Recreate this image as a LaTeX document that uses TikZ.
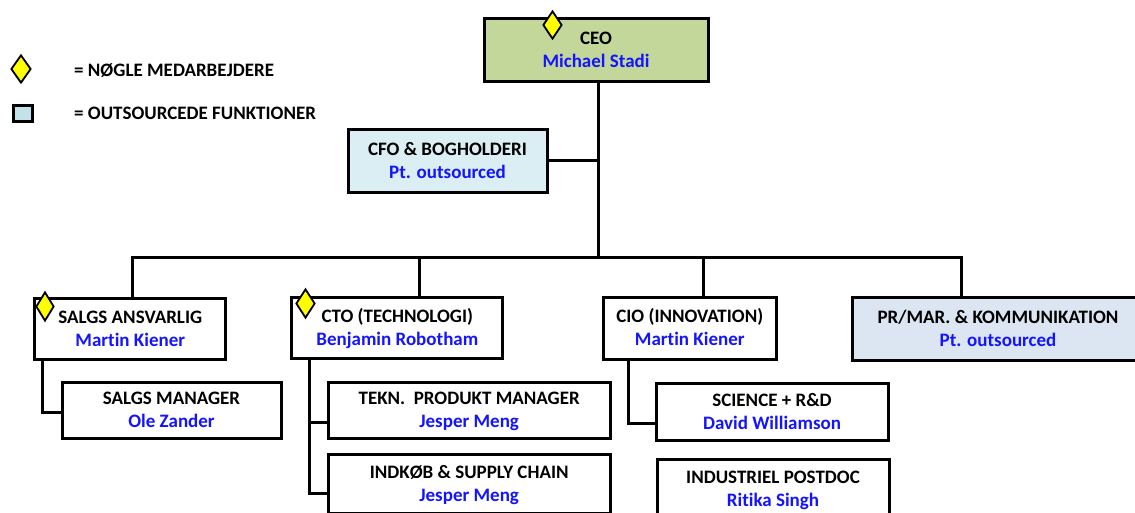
\documentclass[tikz,border=0pt]{standalone}
\usepackage{fontspec}
\setmainfont{Carlito}[RawFeature={-liga;-dlig}]
\usetikzlibrary{shapes.geometric}
\definecolor{ceofill}{HTML}{C4D79B}
\definecolor{cfofill}{HTML}{DAEEF3}
\definecolor{prfill}{HTML}{DCE6F2}
\definecolor{legfill}{HTML}{C3E1EA}
\definecolor{kblue}{HTML}{1414FF}
\definecolor{kyellow}{HTML}{FFFF00}
\tikzset{
  box/.style={draw=black, line width=3pt, fill=white, rectangle, align=center,
    font=\fontsize{19}{23}\selectfont\bfseries, inner sep=2pt,
    text height=40pt, text depth=5pt},
  conn/.style={draw=black, line width=3pt},
  keydia/.style={diamond, draw=black, line width=1.8pt, fill=kyellow, inner sep=0pt},
  legtxt/.style={font=\fontsize{19}{23}\selectfont\bfseries, anchor=base west, inner sep=0pt}
}
\newcommand{\who}[1]{\textcolor{kblue}{#1}}
\begin{document}
\begin{tikzpicture}[x=1pt, y=-1pt]
\clip (0,0) rectangle (1135,512);
\fill[white] (0,0) rectangle (1135,512);

% legend
\node[keydia, minimum width=20pt, minimum height=28pt] (legdia) at (21,69) {};
\node[legtxt] (legt1) at (74,76) {= NØGLE MEDARBEJDERE};
\node[draw=black, line width=3pt, fill=legfill, minimum width=19pt, minimum height=16pt, inner sep=0pt] (legsq) at (23,113) {};
\node[legtxt] (legt2) at (74,119) {= OUTSOURCEDE FUNKTIONER};

% boxes
\node[box, fill=ceofill, minimum width=224pt, minimum height=63pt] (ceo) at (596,49.5) {CEO\\\who{Michael Stadi}};
\node[box, fill=cfofill, minimum width=199pt, minimum height=63pt] (cfo) at (447.5,160.5) {CFO \& BOGHOLDERI\\\who{Pt. outsourced}};
\node[box, minimum width=191pt, minimum height=61pt] (salgs) at (130.3,328.5) {SALGS ANSVARLIG\\\who{Martin Kiener}};
\node[box, minimum width=211pt, minimum height=61pt] (cto) at (397.3,327.5) {CTO (TECHNOLOGI)\\\who{Benjamin Robotham}};
\node[box, minimum width=173pt, minimum height=62pt] (cio) at (689.75,328) {CIO (INNOVATION)\\\who{Martin Kiener}};
\node[box, fill=prfill, minimum width=292pt, minimum height=63pt] (pr) at (998,328.5) {PR/MAR. \& KOMMUNIKATION\\\who{Pt. outsourced}};
\node[box, minimum width=219pt, minimum height=56pt] (sm) at (171.5,410) {SALGS MANAGER\\\who{Ole Zander}};
\node[box, minimum width=282pt, minimum height=56pt] (tekn) at (469.2,410) {TEKN.\ \ PRODUKT MANAGER\\\who{Jesper Meng}};
\node[box, minimum width=282pt, minimum height=59pt] (indk) at (469.2,483.5) {INDKØB \& SUPPLY CHAIN\\\who{Jesper Meng}};
\node[box, minimum width=232pt, minimum height=57pt] (sci) at (772,411.5) {SCIENCE + R\&D\\\who{David Williamson}};
\node[box, minimum width=232pt, minimum height=59pt] (post) at (773,488.5) {INDUSTRIEL POSTDOC\\\who{Ritika Singh}};

% key-person markers
\node[keydia, minimum width=19pt, minimum height=28pt] (dceo) at (552.5,25) {};
\node[keydia, minimum width=18pt, minimum height=29pt] (dsalgs) at (45,306.5) {};
\node[keydia, minimum width=19pt, minimum height=29pt] (dcto) at (305.5,303.5) {};

% connectors
\coordinate (bC) at (598,257.5);
\coordinate (bS) at (132.5,257.5);
\coordinate (bT) at (419,257.5);
\coordinate (bI) at (703,257.5);
\coordinate (bP) at (961,257.5);
\draw[conn] (ceo.south -| bC) -- (bC);
\draw[conn] (cfo.east) -- (cfo.east -| bC);
\draw[conn] (salgs.north -| bS) -- (bS) -- (bP) -- (pr.north -| bP);
\draw[conn] (bT) -- (cto.north -| bT);
\draw[conn] (bI) -- (cio.north -| bI);
\draw[conn] ([xshift=9pt]salgs.south west) |- ([yshift=-2pt]sm.west);
\draw[conn] ([xshift=19pt]cto.south west) |- ([yshift=-12pt]tekn.west);
\draw[conn] ([xshift=19pt]cto.south west) |- ([yshift=-9.5pt]indk.west);
\draw[conn] ([xshift=27pt]cio.south west) |- ([yshift=-11.5pt]sci.west);
\end{tikzpicture}
\end{document}
